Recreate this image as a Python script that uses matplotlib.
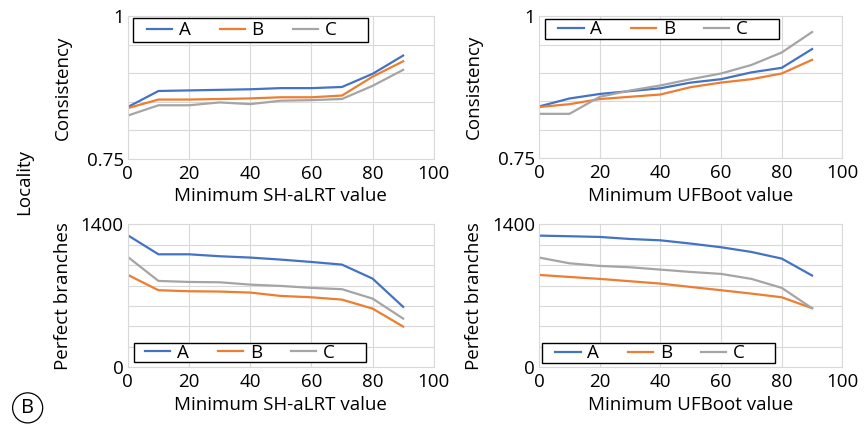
import matplotlib.pyplot as plt
import numpy as np
from matplotlib.patches import Rectangle

plt.rcParams['font.family'] = ['Open Sans', 'DejaVu Sans']

# 数据：最小支持值阈值
thresholds = [0, 10, 20, 30, 40, 50, 60, 70, 80, 90]
series_names = ['A', 'B', 'C']

# Consistency vs SH-aLRT
cons_shalrt_a = [0.841, 0.869, 0.870, 0.871, 0.872, 0.874, 0.874, 0.876, 0.899, 0.931]
cons_shalrt_b = [0.839, 0.854, 0.854, 0.855, 0.856, 0.858, 0.858, 0.861, 0.894, 0.921]
cons_shalrt_c = [0.826, 0.844, 0.844, 0.849, 0.846, 0.852, 0.853, 0.855, 0.878, 0.906]

# Consistency vs UFBoot
cons_ufboot_a = [0.841, 0.855, 0.863, 0.868, 0.873, 0.883, 0.889, 0.901, 0.909, 0.942]
cons_ufboot_b = [0.840, 0.845, 0.854, 0.858, 0.862, 0.875, 0.883, 0.889, 0.899, 0.923]
cons_ufboot_c = [0.828, 0.828, 0.858, 0.869, 0.878, 0.889, 0.899, 0.914, 0.936, 0.972]

# Perfect branches vs SH-aLRT
perf_shalrt_a = [1292, 1106, 1106, 1087, 1074, 1054, 1031, 1005, 868, 591]
perf_shalrt_b = [904, 754, 744, 741, 731, 698, 685, 662, 574, 398]
perf_shalrt_c = [1080, 845, 835, 832, 809, 796, 777, 764, 672, 476]

# Perfect branches vs UFBoot
perf_ufboot_a = [1289, 1283, 1276, 1256, 1243, 1211, 1175, 1129, 1064, 898]
perf_ufboot_b = [904, 884, 865, 842, 819, 786, 754, 721, 685, 578]
perf_ufboot_c = [1074, 1018, 992, 979, 956, 933, 914, 865, 777, 578]

colors = ['#4472C4', '#ED7D31', '#A5A5A5']
fs = 13.5


def draw_panel(ax, series, xlabel, ylabel, ymin, ymax, ystep, legbox, legstart):
    for vals, name, c in zip(series, series_names, colors):
        ax.plot(thresholds, vals, color=c, lw=1.6, label=name)
    ax.set_xlim(0, 100)
    ax.set_ylim(ymin, ymax)
    ax.set_xticks(np.arange(0, 101, 20))
    yt = np.arange(ymin, ymax + ystep / 2, ystep)
    ax.set_yticks(yt)
    labs = [''] * len(yt)
    labs[0] = ('%g' % ymin)
    labs[-1] = ('%g' % ymax)
    ax.set_yticklabels(labs)
    ax.grid(True, color='#d9d9d9', lw=0.8)
    ax.set_axisbelow(True)
    for s in ax.spines.values():
        s.set_color('#d9d9d9')
    ax.tick_params(length=0, labelsize=fs)
    ax.tick_params(axis='x', pad=4)
    ax.tick_params(axis='y', pad=3)
    ax.set_xlabel(xlabel, fontsize=fs, labelpad=3.5)
    ax.set_ylabel(ylabel, fontsize=fs)
    ax.yaxis.set_label_coords(-0.184, 0.5)

    # 图例外框
    x0, y0, x1, y1 = legbox
    ax.add_patch(Rectangle((x0, y0), x1 - x0, y1 - y0, transform=ax.transAxes,
                           fc='white', ec='black', lw=1.0, zorder=4, clip_on=False))
    leg = ax.legend(loc='center left', bbox_to_anchor=(legstart, (y0 + y1) / 2), ncol=3,
                    fontsize=fs, frameon=False, handlelength=1.35, handletextpad=0.35,
                    columnspacing=1.55, borderpad=0, borderaxespad=0)
    leg.set_zorder(5)


fig = plt.figure(figsize=(8.64, 4.24), dpi=100)
ax1 = fig.add_axes([0.148, 0.625, 0.354, 0.337])
ax2 = fig.add_axes([0.624, 0.627, 0.351, 0.335])
ax3 = fig.add_axes([0.148, 0.134, 0.354, 0.337])
ax4 = fig.add_axes([0.624, 0.134, 0.351, 0.337])

draw_panel(ax1, [cons_shalrt_a, cons_shalrt_b, cons_shalrt_c],
           'Minimum SH-aLRT value', 'Consistency', 0.75, 1.0, 0.05,
           (0.016, 0.818, 0.784, 0.986), 0.062)
draw_panel(ax2, [cons_ufboot_a, cons_ufboot_b, cons_ufboot_c],
           'Minimum UFBoot value', 'Consistency', 0.75, 1.0, 0.05,
           (0.02, 0.838, 0.792, 0.979), 0.063)
draw_panel(ax3, [perf_shalrt_a, perf_shalrt_b, perf_shalrt_c],
           'Minimum SH-aLRT value', 'Perfect branches', 0, 1400, 200,
           (0.02, 0.035, 0.778, 0.168), 0.056)
draw_panel(ax4, [perf_ufboot_a, perf_ufboot_b, perf_ufboot_c],
           'Minimum UFBoot value', 'Perfect branches', 0, 1400, 200,
           (0.01, 0.028, 0.779, 0.168), 0.053)

fig.text(0.028, 0.57, 'Locality', rotation=90, fontsize=fs, ha='center', va='center')
fig.text(0.032, 0.038, 'B', fontsize=fs + 1, ha='center', va='center',
         bbox=dict(boxstyle='circle,pad=0.25', fc='white', ec='black', lw=0.9))

plt.savefig('out.png', dpi=100)
